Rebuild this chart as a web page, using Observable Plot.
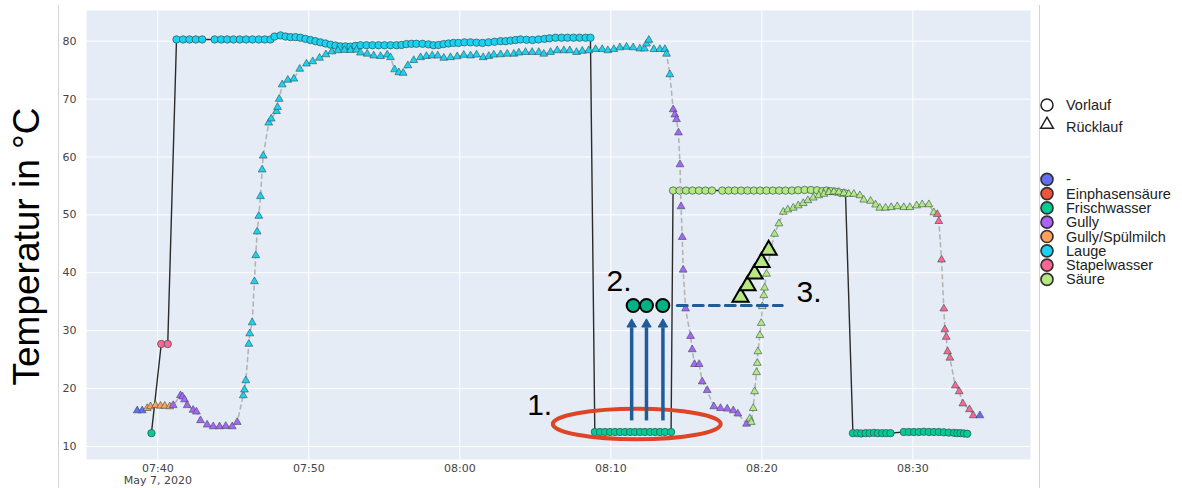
<!DOCTYPE html>
<html><head><meta charset="utf-8">
<script src="https://cdn.jsdelivr.net/npm/d3@7"></script>
<script src="https://cdn.jsdelivr.net/npm/@observablehq/plot@0.6"></script>
<style>
body{margin:0;background:#fff;}
#wrap{position:relative;width:1182px;height:488px;overflow:hidden;}
.vline{position:absolute;top:5px;bottom:0;width:1.5px;background:#d4d4d4;}
#wrap svg{position:absolute;left:0;top:0;}
</style></head><body>
<div id="wrap"><div class="vline" style="left:57.5px"></div><div class="vline" style="left:1038.5px"></div></div>
<script>
// ---------- categories & colours ----------
const categories = ["-", "Einphasensäure", "Frischwasser", "Gully", "Gully/Spülmilch", "Lauge", "Stapelwasser", "Säure"];
const catColors = ["#636EFA", "#EF553B", "#00CC96", "#AB63FA", "#FFA15A", "#19D3F3", "#FF6692", "#B6E880"];
const shapeLabels = ["Vorlauf", "Rücklauf"];

// ---------- axis ticks ----------
const yTicks = [10, 20, 30, 40, 50, 60, 70, 80];
const xTickMinutes = [40, 50, 60, 70, 80, 90]; // minutes after 07:00 on May 7, 2020

// ---------- Vorlauf (circles), [minutes after 07:00, °C] ----------
const vlFrisch1 = [[39.58,12.3]];
const vlStapel = [[40.23,27.7],[40.66,27.7]];
const vlLauge = [[41.24,80.3],[41.68,80.3],[42.10,80.3],[42.52,80.3],[42.94,80.3],[43.77,80.3],[44.20,80.3],[44.60,80.3],[45.01,80.3],[45.43,80.3],[45.85,80.3],[46.27,80.3],[46.69,80.3],[47.09,80.3],[47.46,80.3],
 [47.73,80.8],[48.13,81.0],[48.46,80.8],[48.79,80.7],[49.12,80.7],[49.45,80.6],[49.78,80.4],[50.11,80.2],[50.44,80.0],[50.77,79.8],
 [51.11,79.6],[51.44,79.4],[51.77,79.25],[52.10,79.1],[52.43,79.1],[52.76,79.05],[53.09,79.2],[53.42,79.3],[53.82,79.3],[54.22,79.3],
 [54.62,79.3],[55.01,79.3],[55.41,79.3],[55.81,79.3],[56.14,79.35],[56.47,79.5],[56.80,79.55],[57.13,79.55],[57.53,79.55],[57.93,79.45],
 [58.26,79.3],[58.59,79.35],[58.92,79.5],[59.25,79.6],[59.58,79.7],[59.91,79.7],[60.31,79.8],[60.71,79.8],[61.11,79.75],[61.50,79.7],
 [61.90,79.8],[62.30,79.9],[62.70,80.0],[63.03,80.0],[63.36,80.1],[63.69,80.2],[64.02,80.3],[64.42,80.25],[64.81,80.2],[65.21,80.3],
 [65.61,80.4],[65.94,80.5],[66.34,80.6],[66.74,80.6],[67.13,80.6],[67.53,80.6],[67.93,80.6],[68.33,80.6],[68.65,80.6]];
const vlFrisch2 = [[68.94,12.5],[69.28,12.5],[69.62,12.5],[69.95,12.5],[70.28,12.5],[70.61,12.5],[70.94,12.5],[71.27,12.5],[71.60,12.5],[71.93,12.5],[72.26,12.5],[72.60,12.5],[72.93,12.5],[73.26,12.5],[73.59,12.5],[73.99,12.5]];
const vlSaeure = [[74.12,54.2],[74.55,54.2],[74.98,54.2],[75.41,54.2],[75.84,54.2],[76.27,54.2],[76.70,54.2],[77.38,54.2],[77.80,54.2],[78.21,54.2],[78.63,54.2],[79.05,54.2],[79.47,54.2],[79.89,54.2],[80.31,54.2],[80.73,54.2],[81.15,54.2],[81.57,54.2],[81.99,54.2],[82.40,54.25],[82.83,54.3],[83.25,54.3],[83.66,54.25],[84.00,54.1],[84.28,54.2],[84.55,54.1],[84.88,54.0],[85.21,53.8],[85.54,53.7]];
const vlFrisch3 = [[86.03,12.3],[86.32,12.3],[86.58,12.25],[86.87,12.3],[87.13,12.3],[87.42,12.35],[87.68,12.3],[87.97,12.3],[88.24,12.3],[88.52,12.3],[89.40,12.5],[89.74,12.5],[90.07,12.5],[90.40,12.5],[90.73,12.55],[91.06,12.5],[91.39,12.5],[91.72,12.5],[92.05,12.45],[92.38,12.4],[92.72,12.35],[92.94,12.3],[93.16,12.3],[93.38,12.25],[93.60,12.2]];

// ---------- Rücklauf (triangles), [minutes after 07:00, °C] ----------
const rlDash1 = [[38.64,16.2],[38.97,16.2]];
const rlGullySp = [[39.30,16.6],[39.52,16.9],[39.85,17.1],[40.18,17.0],[40.46,17.0],[40.79,16.9]];
const rlGully1 = [[41.02,17.1],[41.50,18.8],[41.64,18.6],[41.77,18.1],[41.95,17.1],[42.34,16.3],[42.56,16.0],[42.83,14.5],[43.27,13.75],[43.67,13.45],[44.09,13.45],[44.50,13.5],[44.93,13.45],[45.26,14.2]];
const rlLauge = [[45.66,18.8],[45.74,19.8],[45.83,21.4],[46.03,27.7],[46.09,29.5],[46.25,31.4],[46.40,38.5],[46.49,43.0],[46.58,47.1],[46.69,49.8],[46.80,53.2],[46.91,57.8],[46.98,60.2],[47.35,65.9],[47.51,66.6],[47.86,67.9],[47.93,68.6],[48.04,70.0],[48.24,72.5],[48.61,73.3],[49.01,73.5],[49.40,75.2],[49.85,76.1],[50.26,76.5],[50.71,77.1],[51.13,77.7],[51.52,78.2],[51.93,78.4],[52.36,78.45],[52.76,78.45],[53.16,78.5],[53.42,78.0],[53.87,77.8],[54.30,77.5],[54.75,77.4],[55.19,77.65],[55.41,77.2],[55.68,75.1],[55.96,74.6],[56.25,74.5],[56.56,75.8],[56.95,76.7],[57.40,77.2],[57.79,77.4],[58.17,77.5],[58.54,77.5],[58.94,77.1],[59.38,77.2],[59.83,77.35],[60.26,77.6],[60.71,77.5],[61.11,77.65],[61.55,77.2],[61.92,77.4],[62.25,77.65],[62.70,77.7],[63.14,77.8],[63.58,77.8],[63.91,78.0],[64.35,78.1],[64.79,78.1],[65.23,78.1],[65.56,77.8],[66.01,78.1],[66.45,78.4],[66.89,78.4],[67.28,78.4],[67.73,78.1],[68.11,78.3],[68.54,78.4],[68.99,78.6],[69.43,78.6],[69.80,78.4],[70.20,78.6],[70.60,78.9],[71.04,79.0],[71.48,78.9],[71.92,78.7],[72.23,78.7],[72.36,79.55],[72.52,80.2],[72.85,78.6],[73.25,78.6],[73.58,78.6],[73.69,77.8],[73.91,74.25]];
const rlGully2 = [[74.13,68.2],[74.24,67.3],[74.35,66.5],[74.48,64.2],[74.58,58.7],[74.65,51.45],[74.73,46.15],[74.79,40.5],[74.95,33.8],[75.28,29.05],[75.39,26.75],[75.54,24.2],[75.85,24.2],[76.05,21.2],[76.38,19.7],[76.82,16.9],[77.26,16.6],[77.71,16.5],[78.11,16.2],[78.41,15.65],[78.99,13.9]];
const rlSaeure = [[79.21,14.8],[79.30,14.2],[79.43,16.6],[79.52,19.5],[79.65,22.8],[79.70,24.4],[79.74,26.4],[79.87,29.2],[79.96,31.3],[80.03,34.2],[80.13,36.1],[80.18,37.4],[80.31,39.8],[80.58,43.85],[80.84,46.7],[81.13,48.5],[81.42,50.5],[81.72,50.9],[82.08,51.2],[82.41,51.6],[82.74,52.0],[83.05,52.5],[83.40,52.95],[83.77,53.35],[84.11,53.6],[84.44,53.9],[84.77,54.0],[85.10,53.95],[85.43,53.75],[85.76,53.6],[86.09,53.6],[86.49,53.35],[86.75,52.6],[87.20,52.4],[87.53,51.75],[87.81,51.2],[88.19,51.2],[88.57,51.3],[88.97,51.45],[89.40,51.3],[89.80,51.3],[90.25,51.6],[90.62,51.8],[91.06,51.8],[91.39,50.4]];
const rlStapel = [[91.62,50.1],[91.72,48.9],[91.90,42.25],[92.05,33.8],[92.12,30.2],[92.21,28.9],[92.30,26.4],[92.45,25.3],[92.81,20.5],[93.07,19.5],[93.31,17.4],[93.75,16.4],[94.00,15.35]];
const rlDash2 = [[94.44,15.35]];

// ---------- annotations (data coordinates) ----------
const annoEllipse = [[71.75, 13.8, 5.56, 2.64]];          // centre min, centre °C, radius min, radius °C
const annoArrowMinutes = [71.38, 72.36, 73.45];
const annoArrowFrom = 14.5, annoArrowTo = 30.6, annoArrowTip = 31.1;
const annoCircles = [[71.48,34.35],[72.36,34.35],[73.44,34.35]];
const annoDash = [[74.40,34.35],[81.35,34.35]];
const annoTriangles = [[78.59,35.8],[79.05,37.8],[79.52,39.8],[79.98,41.8],[80.45,43.9]];
const annoLabels = [[64.46,15.5,"1."],[69.72,36.8,"2."],[82.30,34.9,"3."]];

// ---------- build ----------
const toDate = m => new Date(2020, 4, 7, 7, 0, 0, Math.round(m * 60000));
function build(segs) {
  const out = [];
  for (const [cat, pts] of segs) for (const [m, v] of pts) out.push({date: toDate(m), temp: v, cat});
  return out;
}
const vorlauf = build([["Frischwasser", vlFrisch1], ["Stapelwasser", vlStapel], ["Lauge", vlLauge], ["Frischwasser", vlFrisch2], ["Säure", vlSaeure], ["Frischwasser", vlFrisch3]]);
const ruecklauf = build([["-", rlDash1], ["Gully/Spülmilch", rlGullySp], ["Gully", rlGully1], ["Lauge", rlLauge], ["Gully", rlGully2], ["Säure", rlSaeure], ["Stapelwasser", rlStapel], ["-", rlDash2]]);
const xTicks = xTickMinutes.map(toDate);
const pt = ([m, v]) => ({date: toDate(m), temp: v});
const blue = "#1F5C99";
const ns = "http://www.w3.org/2000/svg";

function ellipseMark(index, scales) {
  const g = document.createElementNS(ns, "g");
  for (const [cm, cv, rm, rv] of annoEllipse) {
    const cx = scales.x(toDate(cm)), cy = scales.y(cv);
    const rx = scales.x(toDate(cm + rm)) - cx, ry = cy - scales.y(cv + rv);
    const e = document.createElementNS(ns, "ellipse");
    e.setAttribute("cx", cx); e.setAttribute("cy", cy);
    e.setAttribute("rx", rx); e.setAttribute("ry", ry);
    e.setAttribute("fill", "none"); e.setAttribute("stroke", "#DE4527"); e.setAttribute("stroke-width", 4);
    g.appendChild(e);
  }
  return g;
}

const chart = Plot.plot({
  width: 1182, height: 488,
  marginLeft: 86, marginRight: 152, marginTop: 10, marginBottom: 29,
  style: {fontFamily: "'DejaVu Sans', Verdana, sans-serif", fontSize: "11px", color: "#444", background: "transparent"},
  x: {type: "time", domain: [toDate(35.28), toDate(97.79)]},
  y: {domain: [7.75, 85.3]},
  color: {domain: categories, range: catColors},
  marks: [
    Plot.frame({fill: "#E5ECF6", stroke: "none"}),
    Plot.gridX(xTicks, {stroke: "#fff", strokeOpacity: 1, strokeWidth: 1}),
    Plot.gridY(yTicks, {stroke: "#fff", strokeOpacity: 1, strokeWidth: 1}),
    Plot.axisX(xTicks, {tickSize: 0, tickPadding: 5, tickFormat: d3.timeFormat("%H:%M"), label: null}),
    Plot.axisY(yTicks, {tickSize: 0, tickPadding: 10, label: null}),
    Plot.text([{d: toDate(40), t: "May 7, 2020"}], {x: "d", text: "t", frameAnchor: "bottom", dy: 24.5, lineAnchor: "bottom", textAnchor: "middle"}),
    Plot.text([{t: "Temperatur in °C"}], {text: "t", frameAnchor: "left", dx: -59, dy: 11.5, rotate: -90, textAnchor: "middle", lineAnchor: "middle", fontSize: 37, fontFamily: "'Liberation Sans', Arial, sans-serif", fill: "#000"}),
    Plot.line(vorlauf, {x: "date", y: "temp", stroke: "#2b2b2b", strokeWidth: 1.4}),
    Plot.dot(vorlauf, {x: "date", y: "temp", fill: "cat", r: 3.7, stroke: "#2F4F4F", strokeWidth: 0.7}),
    Plot.line(ruecklauf, {x: "date", y: "temp", stroke: "#b4b4b4", strokeWidth: 1.6, strokeDasharray: "4,4"}),
    Plot.dot(ruecklauf, {x: "date", y: "temp", fill: "cat", r: 2.9, symbol: "triangle", stroke: "#2F4F4F", strokeWidth: 0.6}),
    ellipseMark,
    Plot.link(annoArrowMinutes, {x1: m => toDate(m), x2: m => toDate(m), y1: () => annoArrowFrom, y2: () => annoArrowTo, stroke: blue, strokeWidth: 3.5}),
    Plot.dot(annoArrowMinutes, {x: m => toDate(m), y: () => annoArrowTip, symbol: "triangle", r: 3.5, fill: blue, stroke: blue, strokeWidth: 1}),
    Plot.dot(annoCircles.map(pt), {x: "date", y: "temp", r: 6.5, fill: "#00B386", stroke: "#000", strokeWidth: 2}),
    Plot.line(annoDash.map(pt), {x: "date", y: "temp", stroke: blue, strokeWidth: 3, strokeDasharray: "10,6"}),
    Plot.dot(annoTriangles.map(pt), {x: "date", y: "temp", symbol: "triangle", r: 6, fill: "#B6E880", stroke: "#000", strokeWidth: 2}),
    Plot.text(annoLabels, {x: d => toDate(d[0]), y: d => d[1], text: d => d[2], textAnchor: "start", lineAnchor: "bottom", fontSize: 30, fontFamily: "'Liberation Sans', Arial, sans-serif", fill: "#000"})
  ]
});
document.getElementById("wrap").appendChild(chart);

// ---------- legend ----------
const leg = d3.select("#wrap").append("svg").attr("width", 1182).attr("height", 488)
  .style("font-family", "'Liberation Sans', Arial, sans-serif").style("font-size", "14.5px");
const lx = 1047, tx = 1066;
leg.append("circle").attr("cx", lx).attr("cy", 105).attr("r", 6).attr("fill", "#fff").attr("stroke", "#222").attr("stroke-width", 1.5);
leg.append("path").attr("d", d3.symbol(d3.symbolTriangle, 70)()).attr("transform", `translate(${lx},124.5)`).attr("fill", "#fff").attr("stroke", "#222").attr("stroke-width", 1.5);
shapeLabels.forEach((s, i) => leg.append("text").attr("x", tx).attr("y", [110, 131.5][i]).attr("fill", "#222").text(s));
categories.forEach((c, i) => {
  const cy = 179.3 + i * 14.3;
  leg.append("circle").attr("cx", lx).attr("cy", cy).attr("r", 6).attr("fill", catColors[i]).attr("stroke", "#333").attr("stroke-width", 1.7);
  leg.append("text").attr("x", tx).attr("y", cy + 5).attr("fill", "#222").text(c);
});
</script>
</body></html>
